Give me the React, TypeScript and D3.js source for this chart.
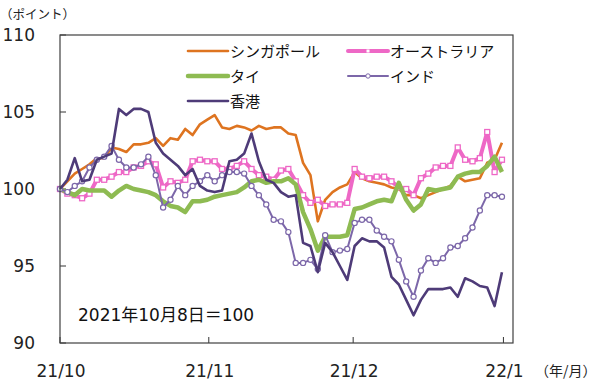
import React from "react";
import * as d3 from "d3";

const seriesNames = ["シンガポール", "オーストラリア", "タイ", "インド", "香港"];

const singapore = [100, 100.5, 101.0, 101.3, 101.6, 102.0, 102.0, 102.7, 102.6, 102.4, 102.9, 102.9, 103.0, 103.3, 102.8, 103.3, 103.2, 103.9, 103.5, 104.2, 104.5, 104.8, 104.0, 103.9, 104.1, 104.0, 103.8, 104.1, 103.9, 104.0, 104.0, 103.6, 103.5, 101.7, 100.9, 97.9, 99.3, 99.8, 100.1, 100.3, 101.1, 100.7, 100.5, 100.4, 100.3, 100.1, 100.0, 99.6, 99.6, 99.4, 99.6, 99.8, 100.0, 100.2, 100.8, 100.5, 100.6, 100.7, 101.7, 101.9, 103.0];
const australia = [100, 99.7, 99.6, 99.4, 99.7, 100.6, 100.6, 100.8, 101.1, 101.1, 101.4, 101.5, 101.8, 101.6, 100.1, 100.5, 100.4, 100.6, 101.8, 101.9, 101.8, 101.8, 101.3, 101.3, 101.5, 101.8, 101.3, 100.9, 100.8, 100.6, 101.2, 101.3, 100.5, 99.6, 99.1, 99.3, 98.9, 99.0, 99.0, 99.1, 101.3, 100.8, 100.7, 100.8, 100.8, 100.5, 100.1, 100.0, 99.6, 100.7, 101.0, 101.4, 101.5, 101.5, 102.7, 101.9, 101.8, 102.0, 103.7, 101.1, 101.9];
const thailand = [100, 99.8, 99.6, 100.0, 99.9, 99.9, 99.9, 99.5, 99.9, 100.2, 100.0, 99.9, 99.8, 99.6, 99.2, 98.9, 98.8, 98.5, 99.2, 99.2, 99.3, 99.5, 99.6, 99.7, 99.8, 100.1, 100.5, 100.6, 100.4, 100.5, 100.5, 100.7, 100.3, 98.5, 97.4, 96.0, 96.9, 96.9, 96.9, 97.0, 98.7, 98.8, 99.0, 99.2, 99.3, 99.2, 100.4, 99.3, 98.6, 99.0, 100.0, 99.9, 100.0, 100.1, 100.8, 101.0, 101.1, 101.1, 101.5, 102.1, 101.1];
const india = [100, 99.8, 100.2, 100.5, 101.4, 101.9, 102.1, 102.8, 101.9, 101.4, 101.4, 101.6, 102.1, 100.9, 98.8, 99.3, 100.2, 99.6, 100.2, 100.5, 100.9, 100.5, 100.9, 101.1, 101.1, 101.0, 100.2, 99.6, 99.0, 98.0, 97.9, 97.2, 95.2, 95.2, 95.4, 94.8, 97.0, 95.9, 96.0, 96.1, 97.8, 98.0, 98.0, 97.3, 96.9, 96.6, 95.4, 94.0, 93.0, 94.7, 95.5, 95.2, 95.5, 96.2, 96.3, 96.8, 97.5, 98.6, 99.6, 99.6, 99.5];
const hongkong = [100, 100.6, 102.0, 100.5, 100.6, 101.9, 102.1, 102.3, 105.2, 104.8, 105.2, 105.2, 105.0, 103.0, 102.3, 101.9, 101.5, 100.9, 101.3, 100.2, 99.9, 99.8, 99.9, 101.8, 101.9, 102.3, 103.6, 101.8, 100.6, 100.4, 99.8, 99.5, 99.6, 96.5, 96.3, 94.6, 96.5, 95.9, 95.0, 94.1, 96.3, 96.8, 96.6, 96.6, 96.2, 94.3, 93.8, 92.8, 91.8, 92.8, 93.5, 93.5, 93.5, 93.6, 93.0, 94.2, 94.0, 93.7, 93.6, 92.4, 94.6];

const yTicks = [90, 95, 100, 105, 110];
const xTickLabels = ["21/10", "21/11", "21/12", "22/1"];
const xTickIdx = [0, 20.2, 39.8, 60.2];

const W = 600;
const H = 381;
const L = 60, R = 513, T = 35, B = 343;

export default function App() {
  const x = d3.scaleLinear().domain([0, 61.5]).range([L, R]);
  const y = d3.scaleLinear().domain([90, 110]).range([B, T]);
  const line = d3.line<number>().x((_, i) => x(i)).y((d) => y(d));
  const numFont = "'DejaVu Sans', 'Noto Sans CJK JP', sans-serif";
  const jpFont = "'Noto Sans CJK JP', 'DejaVu Sans', sans-serif";

  const series = [
    { name: seriesNames[0], data: singapore, color: "#DE7420", width: 2.6, marker: null },
    { name: seriesNames[1], data: australia, color: "#EE68C6", width: 4, marker: "square" },
    { name: seriesNames[2], data: thailand, color: "#8EBB52", width: 4.5, marker: null },
    { name: seriesNames[3], data: india, color: "#7C67A9", width: 2, marker: "circle" },
    { name: seriesNames[4], data: hongkong, color: "#4E3B78", width: 2.6, marker: null },
  ];

  const legend = [
    { s: series[0], lx: 188, ly: 51 },
    { s: series[2], lx: 188, ly: 76 },
    { s: series[4], lx: 188, ly: 101 },
    { s: series[1], lx: 348, ly: 51 },
    { s: series[3], lx: 348, ly: 76 },
  ];

  const marks: any[] = [];
  series.forEach((s) => {
    marks.push(
      <path key={s.name} d={line(s.data) || ""} fill="none" stroke={s.color} strokeWidth={s.width} strokeLinejoin="round" />
    );
    if (s.marker === "square") {
      s.data.forEach((d, j) => marks.push(
        <rect key={s.name + j} x={x(j) - 2.5} y={y(d) - 2.5} width={5} height={5} fill="#fff" stroke={s.color} strokeWidth={1.3} />
      ));
    } else if (s.marker === "circle") {
      s.data.forEach((d, j) => marks.push(
        <circle key={s.name + j} cx={x(j)} cy={y(d)} r={2.6} fill="#fff" stroke={s.color} strokeWidth={1.2} />
      ));
    }
  });

  return (
    <svg width={W} height={H} style={{ position: "absolute", left: 0, top: 0, background: "#fff" }}>
      <rect x={0} y={0} width={W} height={H} fill="#fff" />
      <text x={0} y={19} fontSize={12.5} fontFamily={jpFont} fill="#222">（ポイント）</text>
      {yTicks.map((t) => (
        <g key={t}>
          <text x={35} y={y(t) + 6} textAnchor="end" fontSize={17} fontFamily={numFont} fill="#222">{t}</text>
          <line x1={L} x2={L + 6} y1={y(t)} y2={y(t)} stroke="#333" strokeWidth={1} />
        </g>
      ))}
      {xTickLabels.map((lab, i) => (
        <g key={lab}>
          <text x={x(xTickIdx[i]) + 1} y={377} textAnchor="middle" fontSize={17} fontFamily={numFont} fill="#222">{lab}</text>
          <line x1={x(xTickIdx[i])} x2={x(xTickIdx[i])} y1={B} y2={B - 6} stroke="#333" strokeWidth={1} />
        </g>
      ))}
      <text x={535} y={376} fontSize={14} fontFamily={jpFont} fill="#222">（年/月）</text>
      {marks}
      <rect x={L} y={T} width={R - L} height={B - T} fill="none" stroke="#404040" strokeWidth={1.2} />
      {legend.map(({ s, lx, ly }) => (
        <g key={"lg" + s.name}>
          <line x1={lx} x2={lx + 40} y1={ly} y2={ly} stroke={s.color} strokeWidth={s.width} strokeLinecap="round" />
          {s.marker === "square" && <rect x={lx + 18.5} y={ly - 1.5} width={3} height={3} fill="#fff" />}
          {s.marker === "circle" && <circle cx={lx + 20} cy={ly} r={2.2} fill="#fff" stroke={s.color} strokeWidth={1} />}
          <text x={lx + 42} y={ly + 5.5} fontSize={15} fontFamily={jpFont} fill="#111">{s.name}</text>
        </g>
      ))}
      <text x={78} y={321} fontSize={17} fontFamily={numFont} fill="#111">2021年10月8日＝100</text>
    </svg>
  );
}
